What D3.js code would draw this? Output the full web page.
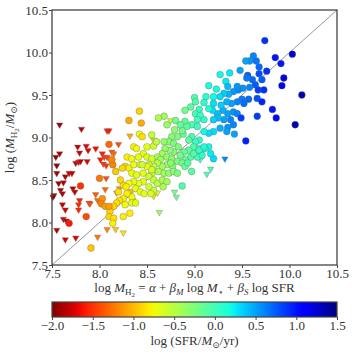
<!DOCTYPE html>
<html><head><meta charset="utf-8">
<script src="https://cdn.jsdelivr.net/npm/d3@7"></script>
<style>
body{margin:0;background:#fff;}
text{font-family:"Liberation Serif","DejaVu Serif",serif;fill:#333;}
</style></head>
<body><svg id="c" width="354" height="354"></svg>
<script>
// Detections (circles): predicted log MH2, observed log MH2, log SFR
const detX = [9.74,9.62,9.58,9.54,9.65,9.68,9.48,9.76,9.85,9.91,10.03,9.37,9.27,9.33,9.56,9.68,9.71,9.61,9.64,9.58,9.51,9.46,9.41,9.36,9.31,9.27,9.94,9.92,10.13,9.67,9.73,9.66,9.71,9.50,9.57,9.45,9.39,9.34,9.52,9.41,9.45,9.35,9.30,9.24,9.19,9.82,9.66,9.49,9.86,10.06,9.38,9.31,9.25,9.20,9.41,9.35,9.27,9.34,9.42,9.54,9.20,9.15,9.10,9.15,9.20,9.17,9.11,9.05,9.01,8.97,9.04,9.06,
9.15,9.23,9.20,9.12,9.10,9.00,9.01,9.05,9.01,8.96,8.90,9.15,9.06,9.10,9.03,8.97,9.03,8.90,8.92,8.88,
8.68,8.62,8.71,8.79,8.87,8.82,8.76,8.73,8.68,8.78,8.83,8.94,8.99,8.94,8.89,8.96,9.03,8.90,8.85,8.78,8.74,8.69,8.66,8.61,8.64,8.71,8.76,8.82,8.87,8.90,8.77,8.71,8.66,8.61,8.57,8.52,8.55,8.62,8.68,8.73,8.78,8.82,8.99,9.05,9.08,9.10,8.97,8.87,
8.42,8.31,8.44,8.42,8.45,8.36,8.39,8.50,8.57,8.46,8.29,8.34,8.41,8.50,8.55,8.27,8.31,8.24,8.36,8.43,8.50,8.55,8.34,8.39,8.46,8.52,8.57,8.61,8.66,8.71,8.67,8.57,8.52,8.46,8.41,8.36,8.31,8.25,8.22,8.17,8.38,8.43,8.47,8.54,8.34,8.29,8.25,8.21,8.18,8.15,8.11,8.10,8.15,8.14,8.25,8.27,8.34,8.38,8.32,
8.10,8.14,8.00,7.80,8.03,8.02,8.06,8.10,7.86,7.68,7.91,8.13,
8.55,8.60,8.80,8.85,9.20,9.28,9.45,9.55,9.35,8.93,8.75,8.45,8.20,8.28];
const detY = [10.14,9.96,9.90,9.90,9.90,9.83,9.79,9.78,9.94,9.87,9.98,9.76,9.74,9.66,9.73,9.75,9.68,9.68,9.62,9.59,9.58,9.56,9.54,9.51,9.52,9.48,9.70,9.61,9.50,9.56,9.56,9.46,9.42,9.45,9.45,9.42,9.40,9.42,9.40,9.30,9.28,9.28,9.32,9.28,9.32,9.33,9.25,9.23,9.23,9.15,9.21,9.21,9.23,9.21,9.15,9.12,9.11,9.07,9.04,8.96,9.07,9.05,9.07,8.89,8.75,8.81,8.87,8.97,8.95,9.01,8.87,8.81,
9.61,9.57,9.48,9.48,9.41,9.47,9.42,9.33,9.28,9.36,9.32,9.34,9.26,9.21,9.21,9.15,9.13,9.19,9.13,9.04,
9.25,9.23,9.15,9.09,9.08,9.01,9.01,8.95,8.95,8.93,8.89,8.97,8.89,8.85,8.83,8.77,8.77,8.74,8.79,8.83,8.85,8.87,8.81,8.77,8.74,8.77,8.75,8.72,8.70,8.66,8.66,8.68,8.66,8.70,8.66,8.68,8.58,8.60,8.58,8.58,8.60,8.58,8.81,8.85,8.79,8.89,8.60,8.43,
9.31,9.20,9.17,9.04,9.01,8.89,8.87,8.89,8.90,8.81,8.77,8.75,8.77,8.77,8.75,8.66,8.64,8.64,8.68,8.68,8.66,8.62,8.58,8.56,8.58,8.54,8.50,8.46,8.50,8.48,8.42,8.38,8.42,8.48,8.46,8.48,8.46,8.44,8.50,8.60,8.40,8.36,8.34,8.34,8.30,8.34,8.28,8.26,8.23,8.19,8.13,8.07,8.05,7.99,8.07,8.21,8.23,8.23,8.11,
8.92,8.68,8.52,8.43,8.28,8.22,8.19,8.19,8.07,7.99,7.70,8.74,
9.03,8.95,9.20,9.15,9.40,9.38,9.60,9.70,9.60,8.70,8.70,8.68,8.36,8.42];
const detSFR = [0.9,0.6,0.55,0.5,0.65,0.7,0.5,0.9,1.0,1.0,1.25,0.25,0.2,0.25,0.75,0.8,0.75,0.7,0.75,0.6,0.55,0.6,0.55,0.45,0.35,0.3,1.2,1.15,1.35,0.85,0.9,0.8,0.95,0.65,0.7,0.6,0.5,0.45,0.7,0.55,0.6,0.5,0.45,0.4,0.3,1.0,0.85,0.85,1.05,1.35,0.6,0.5,0.4,0.35,0.6,0.55,0.45,0.5,0.5,0.95,0.3,0.3,0.2,0.2,0.3,0.25,0.15,0.1,0.05,0.0,0.1,0.15,
0.15,0.2,0.2,0.1,0.1,-0.05,-0.05,0.05,0.0,-0.1,-0.2,0.15,0.05,0.1,0.0,-0.05,0.05,-0.1,-0.1,-0.15,
-0.4,-0.45,-0.35,-0.3,-0.2,-0.25,-0.3,-0.3,-0.35,-0.25,-0.25,-0.1,-0.05,-0.1,-0.15,-0.1,0.0,-0.1,-0.2,-0.3,-0.3,-0.35,-0.4,-0.45,-0.4,-0.35,-0.3,-0.25,-0.2,-0.15,-0.3,-0.35,-0.4,-0.5,-0.5,-0.55,-0.5,-0.45,-0.4,-0.35,-0.3,-0.25,-0.05,0.05,0.1,0.15,-0.1,-0.05,
-0.9,-1.05,-1.05,-0.75,-0.85,-0.8,-0.75,-0.7,-0.6,-0.7,-0.8,-0.75,-0.7,-0.65,-0.6,-0.9,-0.8,-0.9,-0.7,-0.7,-0.7,-0.65,-0.7,-0.7,-0.7,-0.6,-0.55,-0.5,-0.45,-0.4,-0.45,-0.55,-0.6,-0.7,-0.7,-0.7,-0.75,-0.85,-0.9,-0.95,-0.7,-0.7,-0.7,-0.65,-0.75,-0.8,-0.8,-0.85,-0.85,-0.9,-0.9,-0.9,-0.85,-0.8,-0.8,-0.75,-0.7,-0.7,-0.8,
-1.3,-1.2,-1.25,-1.5,-1.15,-1.2,-1.1,-1.1,-1.4,-1.6,-0.95,-1.2,
-0.55,-0.5,-0.2,-0.15,0.3,0.35,0.55,0.65,0.4,-0.1,-0.3,-0.6,-0.85,-0.8];

// Upper limits (downward triangles)
const limX = [7.58,7.81,7.54,7.58,7.55,7.55,7.57,7.59,7.61,7.62,7.64,7.68,7.71,7.75,7.78,7.80,7.77,7.79,7.86,7.88,7.96,7.87,7.72,7.74,7.52,7.51,7.61,7.64,7.62,7.65,7.55,7.64,7.75,7.79,7.78,7.78,7.89,8.08,8.10,8.03,8.05,8.08,8.11,8.04,8.07,8.01,8.20,8.13,8.07,8.06,7.96,7.98,7.90,7.98,8.08,8.17,8.25,8.32,8.57,8.21,8.18,8.33,8.35,8.57,8.61,8.63,8.79,8.81,8.75,9.06,9.13,9.17,9.32,8.15];
const limY = [9.15,9.10,8.77,8.81,8.67,8.58,8.46,8.38,8.34,8.47,8.54,8.58,8.58,8.70,8.71,8.72,8.89,8.82,8.90,8.85,8.87,8.72,8.40,8.36,8.32,8.30,8.21,8.15,8.04,8.02,7.91,7.80,7.82,8.26,8.21,8.15,8.23,9.08,9.08,8.81,8.77,8.77,8.74,8.69,8.67,8.74,8.92,8.83,8.52,8.39,8.33,8.26,8.22,7.83,7.92,7.92,7.88,9.02,8.97,8.40,8.35,8.37,8.26,8.31,8.35,8.12,8.36,8.30,9.20,8.74,8.57,8.63,8.75,8.81];
const limSFR = [-1.9,-1.8,-1.95,-1.9,-1.95,-1.9,-1.9,-1.85,-1.85,-1.85,-1.85,-1.8,-1.8,-1.8,-1.75,-1.8,-1.8,-1.75,-1.7,-1.7,-1.65,-1.7,-1.85,-1.8,-1.95,-1.95,-1.8,-1.75,-1.8,-1.8,-1.85,-1.75,-1.7,-1.6,-1.55,-1.55,-1.5,-1.6,-1.6,-1.6,-1.5,-1.45,-1.4,-1.5,-1.5,-1.6,-1.4,-1.35,-1.4,-1.3,-1.35,-1.3,-1.4,-1.25,-1.2,-0.95,-0.85,-1.05,-0.95,-1.15,-1.1,-1.0,-1.05,-0.85,-0.6,-0.35,-0.2,-0.15,-0.6,-0.05,0.0,0.0,0.6,-1.3];

const axisTicks = [7.5,8.0,8.5,9.0,9.5,10.0,10.5];
const cbarTicks = [-2.0,-1.5,-1.0,-0.5,0.0,0.5,1.0,1.5];
const domainXY = [7.5,10.5];
const sfrDomain = [-2.0,1.5];

// matplotlib "jet" segment data, used reversed (jet_r)
const jr = d3.scaleLinear().domain([0,0.35,0.66,0.89,1]).range([0,0,1,1,0.5]).clamp(true);
const jg = d3.scaleLinear().domain([0,0.125,0.375,0.64,0.91,1]).range([0,0,1,1,0,0]).clamp(true);
const jb = d3.scaleLinear().domain([0,0.11,0.34,0.65,1]).range([0.5,1,1,0,0]).clamp(true);
function jetR(t){
  const u = 1 - Math.max(0, Math.min(1, t));
  return d3.rgb(jr(u)*255, jg(u)*255, jb(u)*255).toString();
}

const svg = d3.select("#c");
const L = 52, R = 337, T = 10, B = 265;
const x = d3.scaleLinear().domain(domainXY).range([L, R]);
const y = d3.scaleLinear().domain(domainXY).range([B, T]);
const cnorm = d3.scaleLinear().domain(sfrDomain).range([0,1]).clamp(true);
const color = v => jetR(cnorm(v));

// diagonal one-to-one line
svg.append("line")
  .attr("x1", x(domainXY[0])).attr("y1", y(domainXY[0]))
  .attr("x2", x(domainXY[1])).attr("y2", y(domainXY[1]))
  .attr("stroke", "#8c8c8c").attr("stroke-width", 0.9);

// upper limits
const tri = d3.symbol().type(d3.symbolTriangle).size(18);
const limits = limX.map((v,i)=>({x:v, y:limY[i], s:limSFR[i]}));
svg.append("g").selectAll("path").data(limits).join("path")
  .attr("d", tri)
  .attr("transform", d => `translate(${x(d.x)},${y(d.y)}) rotate(180)`)
  .attr("fill", d => color(d.s))
  .attr("stroke", "#777").attr("stroke-width", 0.4);

// detections
const dets = detX.map((v,i)=>({x:v, y:detY[i], s:detSFR[i]}));
svg.append("g").selectAll("circle").data(dets).join("circle")
  .attr("cx", d => x(d.x)).attr("cy", d => y(d.y)).attr("r", 3.4)
  .attr("fill", d => color(d.s))
  .attr("stroke", "#666").attr("stroke-width", 0.45)
  .attr("stroke-opacity", 0.8);

// frame
svg.append("rect").attr("x", L).attr("y", T).attr("width", R-L).attr("height", B-T)
  .attr("fill", "none").attr("stroke", "#444").attr("stroke-width", 1.3);

const fmt = v => d3.format(".1f")(v).replace("-", "\u2212");

// x axis
const gx = svg.append("g").attr("transform", `translate(0,${B})`)
  .call(d3.axisBottom(x).tickValues(axisTicks).tickFormat(fmt).tickSize(3).tickPadding(1));
gx.select(".domain").remove();
gx.selectAll("line").attr("stroke", "#444");
gx.selectAll("text").attr("font-size", 13).attr("fill", "#333").style("font-family", "'Liberation Serif',serif");

// y axis
const gy = svg.append("g").attr("transform", `translate(${L},0)`)
  .call(d3.axisLeft(y).tickValues(axisTicks).tickFormat(fmt).tickSize(3).tickPadding(1));
gy.select(".domain").remove();
gy.selectAll("line").attr("stroke", "#444");
gy.selectAll("text").attr("font-size", 13).attr("fill", "#333").style("font-family", "'Liberation Serif',serif");

// y label
const yl = svg.append("text").attr("transform", `translate(14,${(T+B)/2}) rotate(-90)`)
  .attr("text-anchor", "middle").attr("font-size", 13);
yl.append("tspan").text("log (");
yl.append("tspan").attr("font-style", "italic").text("M");
yl.append("tspan").attr("font-size", 9).attr("dy", 3).text("H");
yl.append("tspan").attr("font-size", 7).attr("dy", 2).text("2");
yl.append("tspan").attr("dy", -5).text("/");
yl.append("tspan").attr("font-style", "italic").text("M");
yl.append("tspan").attr("font-size", 9).attr("dy", 3).text("\u2299");
yl.append("tspan").attr("dy", -3).text(")");

// x label
const xl = svg.append("text").attr("x", (L+R)/2).attr("y", 292)
  .attr("text-anchor", "middle").attr("font-size", 13);
xl.append("tspan").text("log ");
xl.append("tspan").attr("font-style", "italic").text("M");
xl.append("tspan").attr("font-size", 9).attr("dy", 3).text("H");
xl.append("tspan").attr("font-size", 7).attr("dy", 2).text("2");
xl.append("tspan").attr("dy", -5).text(" = ");
xl.append("tspan").attr("font-style", "italic").text("\u03b1");
xl.append("tspan").text(" + ");
xl.append("tspan").attr("font-style", "italic").text("\u03b2");
xl.append("tspan").attr("font-size", 9).attr("font-style", "italic").attr("dy", 3).text("M");
xl.append("tspan").attr("dy", -3).text(" log ");
xl.append("tspan").attr("font-style", "italic").text("M");
xl.append("tspan").attr("font-size", 9).attr("dy", 3).text("\u22c6");
xl.append("tspan").attr("dy", -3).text(" + ");
xl.append("tspan").attr("font-style", "italic").text("\u03b2");
xl.append("tspan").attr("font-size", 9).attr("font-style", "italic").attr("dy", 3).text("S");
xl.append("tspan").attr("dy", -3).text(" log SFR");

// colorbar
const CT = 302, CB = 317;
const defs = svg.append("defs");
const grad = defs.append("linearGradient").attr("id", "jetr").attr("x1", "0%").attr("x2", "100%");
d3.range(0, 1.0001, 0.02).forEach(t => {
  grad.append("stop").attr("offset", `${t*100}%`).attr("stop-color", jetR(t));
});
const cx = d3.scaleLinear().domain(sfrDomain).range([L, R]);
svg.append("rect").attr("x", L).attr("y", CT).attr("width", R-L).attr("height", CB-CT)
  .attr("fill", "url(#jetr)").attr("stroke", "#444").attr("stroke-width", 1.2);
const gc = svg.append("g").attr("transform", `translate(0,${CB})`)
  .call(d3.axisBottom(cx).tickValues(cbarTicks).tickFormat(fmt).tickSize(3).tickPadding(1));
gc.select(".domain").remove();
gc.selectAll("line").attr("stroke", "#444");
gc.selectAll("text").attr("font-size", 13).attr("fill", "#333").style("font-family", "'Liberation Serif',serif");

const cl = svg.append("text").attr("x", (L+R)/2).attr("y", 345)
  .attr("text-anchor", "middle").attr("font-size", 13);
cl.append("tspan").text("log (SFR/");
cl.append("tspan").attr("font-style", "italic").text("M");
cl.append("tspan").attr("font-size", 9).attr("dy", 3).text("\u2299");
cl.append("tspan").attr("dy", -3).text("/yr)");
</script></body></html>
